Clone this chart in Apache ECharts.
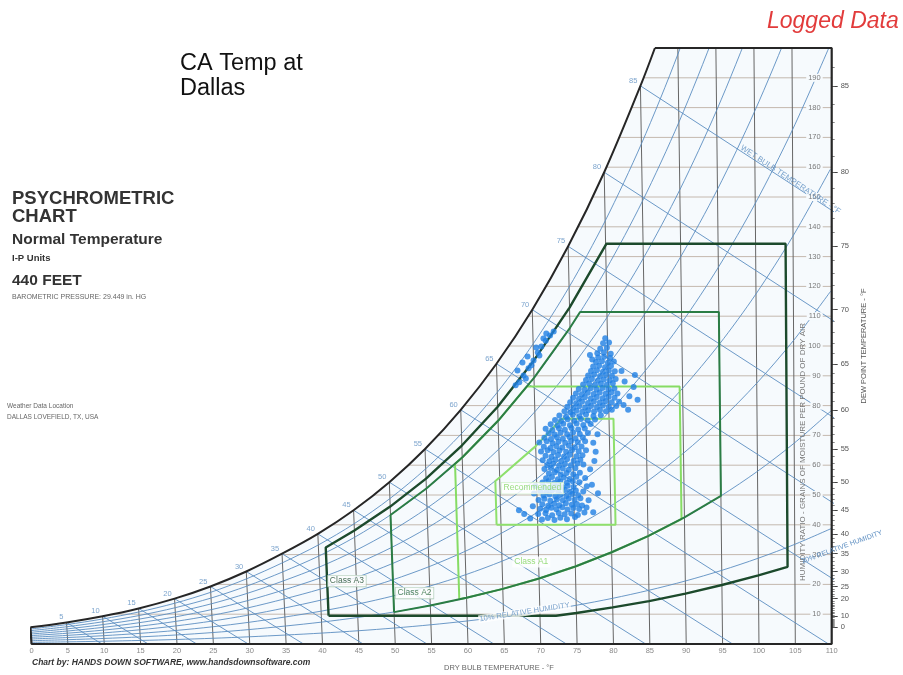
<!DOCTYPE html>
<html>
<head>
<meta charset="utf-8">
<script src="https://cdn.jsdelivr.net/npm/echarts@6/dist/echarts.min.js"></script>
<style>
  html, body { margin: 0; padding: 0; background: #fff; }
  #chart { width: 903px; height: 675px; }
</style>
</head>
<body>
<div id="chart"></div>
<script>
// Psychrometric chart, normal temperature, I-P units, 440 ft elevation,
// with logged computer-room-air readings and the ASHRAE class envelopes.
const FONT = '"Liberation Sans", Arial, Helvetica, sans-serif';

// Barometric pressure 29.449 in. Hg expressed in psia
const baroPsia = 14.464;
const maxGrains = 200;

// Saturation vapour pressure (psia) at each dry bulb knot (°F)
const tableTemps   = [0, 5, 10, 15, 20, 25, 30, 35, 40, 45, 50, 55, 60, 65, 70, 75, 80, 85, 90, 95, 100, 105, 110];
const satPressure  = [0.01857, 0.02403, 0.03093, 0.03956, 0.05036, 0.06379, 0.08037, 0.09998, 0.12173, 0.14756,
                      0.17813, 0.21413, 0.25639, 0.30579, 0.36334, 0.43016, 0.50745, 0.59654, 0.69890, 0.81613,
                      0.95000, 1.10250, 1.27630];

// Grid families
const rhLevels      = [10, 20, 30, 40, 50, 60, 70, 80, 90];
const wetBulbTemps  = [5, 10, 15, 20, 25, 30, 35, 40, 45, 50, 55, 60, 65, 70, 75, 80, 85];
const dryBulbLines  = [5, 10, 15, 20, 25, 30, 35, 40, 45, 50, 55, 60, 65, 70, 75, 80, 85, 90, 95, 100, 105];
const grainLines    = [10, 20, 30, 40, 50, 60, 70, 80, 90, 100, 110, 120, 130, 140, 150, 160, 170, 180, 190];
const dewPointTicks = [0, 10, 20, 25, 30, 35, 40, 45, 50, 55, 60, 65, 70, 75, 80, 85];

// Environmental envelopes: [dry bulb °F, grains per lb]
const classA3 = [[41, 9.5], [41, 32.4], [45, 38.1], [50, 46.1], [55, 55.5], [60, 66.6], [65, 79.6], [70, 95.0],
                 [75, 112.9], [80.1, 134.3], [104, 134.3], [104, 25.9], [100, 23.0], [95, 19.8], [90, 16.9],
                 [85, 14.4], [80, 12.3], [75, 10.4], [72.2, 9.5], [41, 9.5]];
const classA2 = [[50, 10.7], [50, 43.3], [55, 52.2], [60, 62.6], [65, 74.9], [70, 89.3], [75, 106.1], [76.4, 111.4],
                 [95, 111.4], [95, 49.7], [90, 42.5], [85, 36.2], [80, 30.8], [75, 26.0], [70, 22.0], [65, 18.5],
                 [60, 15.5], [55, 12.9], [50, 10.7]];
const classA1 = [[59, 15.0], [59, 60.4], [60, 62.6], [65, 74.9], [69.0, 86.4], [89.6, 86.4], [89.6, 41.9],
                 [85, 36.2], [80, 30.8], [75, 26.0], [70, 22.0], [65, 18.5], [60, 15.5], [59, 15.0]];
const recommended = [[64.4, 40.0], [64.4, 54.7], [65, 55.9], [70, 66.4], [73.6, 75.6], [80.6, 75.6], [80.6, 40.0], [64.4, 40.0]];

// Logged readings: [dry bulb °F, grains per lb]
const loggedLower = [
  [70.6,41.8],[71.4,42.3],[72.3,41.6],[73.1,42.4],[74.0,41.9],[75.1,42.6],
  [70.1,43.6],[71.1,43.9],[72.0,43.2],[72.9,44.0],[73.7,43.5],[74.6,43.8],[75.5,43.3],[76.4,44.1],
  [70.4,45.4],[71.2,45.0],[71.9,45.7],[72.6,45.2],[73.4,45.9],[74.1,45.1],[74.9,45.6],[75.7,45.3],[76.7,45.8],
  [70.7,46.9],[71.5,46.4],[72.3,47.1],[73.0,46.6],[73.9,47.2],[74.7,46.7],[75.4,47.0],[76.1,46.5],
  [70.2,48.3],[71.0,48.7],[71.8,48.1],[72.7,48.6],[73.5,48.2],[74.3,48.8],[75.1,48.4],[75.9,48.9],[77.0,48.2],
  [70.9,49.8],[71.7,50.2],[72.5,49.6],[73.2,50.1],[74.0,49.7],[74.8,50.3],[75.6,49.9],
  [70.5,51.3],[71.3,51.0],[72.1,51.6],[72.9,51.2],[73.8,51.7],[74.5,51.1],[75.3,51.5],[76.3,51.2],
  [71.0,52.8],[71.9,52.4],[72.7,53.0],[73.5,52.6],[74.2,53.1],[75.0,52.7],[76.8,52.9],
  [70.8,54.2],[71.6,54.6],[72.4,54.0],[73.2,54.5],[74.1,54.1],[74.9,54.6],[75.8,54.3],
  [68.2,43.6],[67.5,44.9],[69.0,42.1],[69.4,46.2],[77.6,44.2],[78.3,50.6],[77.5,53.4],[69.6,50.5],[69.8,53.0]
];
const loggedMiddle = [
  [71.3,55.6],[72.1,56.0],[72.9,55.3],[73.7,55.9],[74.5,55.4],[75.4,56.1],[76.6,55.7],
  [71.7,57.2],[72.5,57.6],[73.3,56.9],[74.1,57.4],[75.0,57.0],[75.9,57.5],
  [71.1,58.7],[72.0,59.1],[72.8,58.4],[73.6,58.9],[74.4,58.5],[75.3,59.0],[77.3,58.6],
  [71.5,60.1],[72.3,60.5],[73.1,59.9],[73.9,60.4],[74.7,60.0],[75.6,60.6],[76.4,60.2],
  [70.9,61.7],[71.8,61.3],[72.6,61.9],[73.4,61.4],[74.2,62.0],[75.1,61.5],[76.0,61.8],[77.9,61.4],
  [71.3,63.2],[72.1,62.8],[73.0,63.4],[73.8,62.9],[74.6,63.5],[75.5,63.0],[76.3,63.3],
  [70.7,64.6],[71.6,65.0],[72.4,64.4],[73.2,64.9],[74.1,64.5],[74.9,65.1],[75.8,64.7],[76.8,65.0],[78.1,64.5],
  [71.1,66.2],[72.0,65.8],[72.8,66.4],[73.6,65.9],[74.5,66.5],[75.3,66.0],[76.2,66.3],
  [70.5,67.6],[71.5,68.0],[72.3,67.4],[73.1,67.9],[74.0,67.5],[74.8,68.1],[75.7,67.7],[76.7,68.0],[77.8,67.5],
  [71.2,69.2],[72.1,68.8],[72.9,69.4],[73.7,68.9],[74.6,69.5],[75.4,69.0],[76.4,69.3],
  [71.8,70.7],[72.6,70.3],[73.4,70.9],[74.3,70.4],[75.1,71.0],[76.0,70.5],[77.1,70.8],[78.4,70.4],
  [71.4,72.2],[72.3,71.8],[73.2,72.4],[74.0,71.9],[74.9,72.5],[75.8,72.0],[76.7,72.3],
  [72.1,73.7],[73.0,73.3],[73.8,73.9],[74.7,73.4],[75.6,74.0],[76.5,73.5],[77.5,73.8],
  [72.7,75.2],[73.5,74.8],[74.4,75.4],[75.3,74.9],[76.2,75.5],[77.1,75.0],[78.1,75.3],
  [73.3,76.7],[74.2,76.3],[75.1,76.9],[76.0,76.4],[76.9,77.0],[77.9,76.5],[78.9,76.8]
];
const loggedUpper = [
  [74.0,78.1],[74.8,77.8],[75.6,78.3],[76.4,77.9],[77.2,78.4],[78.0,78.0],[78.8,78.5],[79.6,78.1],[80.4,78.6],
  [74.4,79.6],[75.2,79.3],[76.0,79.8],[76.8,79.4],[77.6,79.9],[78.4,79.5],[79.2,80.0],[80.0,79.6],[81.0,79.9],
  [74.8,81.1],[75.6,80.8],[76.4,81.3],[77.2,80.9],[78.0,81.4],[78.8,81.0],[79.6,81.5],[80.4,81.1],[81.4,81.3],
  [75.2,82.6],[76.0,82.3],[76.8,82.8],[77.6,82.4],[78.4,82.9],[79.2,82.5],[80.0,83.0],[80.8,82.6],
  [75.6,84.1],[76.4,83.8],[77.2,84.3],[78.0,83.9],[78.8,84.4],[79.6,84.0],[80.4,84.5],[81.2,84.1],
  [76.0,85.6],[76.8,85.3],[77.6,85.8],[78.4,85.4],[79.2,85.9],[80.0,85.5],[80.8,85.7],
  [82.0,80.2],[82.8,83.1],[83.4,86.2],[82.2,88.1],[83.6,90.3],[81.8,91.6],[82.6,78.6],[83.9,82.0],
  [76.6,87.1],[77.4,87.4],[78.2,86.9],[79.0,87.3],[79.8,87.0],[80.6,87.5],
  [77.0,88.6],[77.8,88.9],[78.6,88.4],[79.4,88.8],[80.2,88.5],[81.0,88.9],
  [77.3,90.1],[78.1,90.4],[78.9,89.9],[79.7,90.3],[80.5,90.0],
  [77.7,91.6],[78.5,91.9],[79.3,91.4],[80.1,91.8],[80.9,91.5],
  [78.0,93.1],[78.8,93.4],[79.6,92.9],[80.4,93.3],
  [78.4,94.6],[79.2,94.9],[80.0,94.4],[80.8,94.8],[77.9,95.5],
  [78.7,96.1],[79.5,96.4],[80.3,96.0],[77.6,97.0],
  [78.6,97.6],[79.5,97.9],[80.4,97.4],
  [79.0,99.1],[79.9,99.4],
  [79.4,100.9],[80.2,101.2],
  [79.7,102.6]
];
const loggedHumid = [
  [68.0,87.8],[68.6,90.1],[69.3,92.5],[70.0,95.1],[70.6,97.8],[71.1,99.8],[71.7,101.8],[72.3,103.5],[72.8,104.9],
  [68.9,89.1],[69.7,93.5],[70.8,96.8],[67.8,91.8],[68.5,94.5],[69.2,96.5],[70.4,99.5],[71.4,102.5],[67.5,86.8],[71.8,104.2]
];

// ---- psychrometric helpers -------------------------------------------------
const GR = 4354; // 0.62198 lb/lb × 7000 grains/lb
const grainsAtPw = pw => GR * pw / (baroPsia - pw);
function pwsAt(t) {
  const i = Math.max(0, Math.min(tableTemps.length - 2, Math.floor(t / 5)));
  const f = (t - tableTemps[i]) / 5;
  return satPressure[i] * Math.pow(satPressure[i + 1] / satPressure[i], f);
}
const satGrains = t => grainsAtPw(pwsAt(t));
function dewPointOf(g) {
  const pw = g * baroPsia / (GR + g);
  for (let i = 0; i < tableTemps.length - 1; i++) {
    if (pw <= satPressure[i + 1]) {
      return tableTemps[i] + 5 * Math.log(pw / satPressure[i]) / Math.log(satPressure[i + 1] / satPressure[i]);
    }
  }
  return 110;
}
// Dry bulb lines lean slightly as moisture rises (oblique chart coordinates)
const SKEW_K = 0.00023, SKEW_T0 = 115;
const pt = (t, g) => [t - SKEW_K * (SKEW_T0 - t) * g, g];

// ---- grid geometry ---------------------------------------------------------
const tSat200 = dewPointOf(maxGrains);
const satCurve = tableTemps.filter(t => satGrains(t) < maxGrains).map(t => pt(t, satGrains(t)));
satCurve.push(pt(tSat200, maxGrains));

const STEEL = '#5b8dc1';
const series = [];
const addLine = (data, color, width, z, extra) => series.push(Object.assign({
  type: 'line', data, symbol: 'none', silent: true, animation: false, z,
  lineStyle: { color, width }
}, extra || {}));

// light tint inside the chart outline
const outline = satCurve.concat([[110, maxGrains], [110, 0], [0, 0]]);
series.push({
  type: 'custom', coordinateSystem: 'cartesian2d', silent: true, z: 0, clip: false, data: [[0, 0]],
  renderItem: (params, api) => ({
    type: 'polygon',
    shape: { points: outline.map(p => api.coord(p)) },
    style: { fill: '#f6fafd' }
  })
});

// humidity ratio lines start at saturation and run to the right edge
grainLines.forEach(g => addLine([pt(dewPointOf(g), g), [110, g]], '#c4b8ae', 1, 1));
// dry bulb lines rise from the base to the saturation curve
dryBulbLines.forEach(t => addLine([pt(t, 0), pt(t, Math.min(satGrains(t), maxGrains))], '#666', 1, 2));
// relative humidity curves
rhLevels.forEach(rh => addLine(
  tableTemps.map(t => pt(t, grainsAtPw(rh / 100 * satPressure[tableTemps.indexOf(t)]))),
  STEEL, 0.9, 3, { smooth: 0.3 }));
// wet bulb lines from the saturation curve down to dry air
wetBulbTemps.forEach(twb => {
  const ws = satGrains(twb);
  const tEnd = twb + (1093 - 0.556 * twb) * (ws / 7000) / 0.24;
  addLine([pt(twb, ws), pt(tEnd, 0)], STEEL, 0.9, 3);
});

// ASHRAE envelopes
addLine(classA1.map(p => pt(p[0], p[1])), '#86dc64', 2, 4);
addLine(recommended.map(p => pt(p[0], p[1])), '#8ee06c', 2, 4);
addLine(classA2.map(p => pt(p[0], p[1])), '#2b7d45', 2, 5);
addLine(classA3.map(p => pt(p[0], p[1])), '#1c4a2c', 2.4, 5);

// saturation curve and chart frame
addLine(satCurve, '#262626', 2, 6, { smooth: 0.35, clip: false });
addLine([pt(0, satGrains(0)), [0, 0], [110, 0], [110, maxGrains], pt(tSat200, maxGrains)], '#262626', 2.2, 6, { clip: false });

// logged readings
series.push({
  type: 'scatter', silent: true, z: 8, symbolSize: 6, animation: false,
  itemStyle: { color: '#1f7fe4' },
  data: loggedLower.concat(loggedMiddle, loggedUpper, loggedHumid).map(p => pt(p[0], p[1]))
});

// wet bulb numbers along the saturation curve
series.push({
  type: 'scatter', silent: true, z: 9, symbolSize: 0, animation: false,
  data: wetBulbTemps.map(t => pt(t, satGrains(t)).concat([t])),
  label: {
    show: true, position: 'left', distance: 3, offset: [0, -5],
    formatter: p => String(p.value[2]), fontSize: 7.5, color: STEEL, fontFamily: FONT
  }
});

// envelope names and curve captions
const tag = (t, g, text, lab) => ({ value: pt(t, g), label: Object.assign({ show: true, formatter: text, fontFamily: FONT }, lab) });
series.push({
  type: 'scatter', silent: true, z: 10, symbolSize: 0, animation: false,
  label: { position: 'inside' },
  data: [
    tag(43.7, 21.1, 'Class A3', { fontSize: 8.5, color: '#1c4a2c', backgroundColor: '#fff', borderColor: '#9bbfa6', borderWidth: 0.6, padding: [1, 2] }),
    tag(52.9, 17.1, 'Class A2', { fontSize: 8.5, color: '#2b6a3c', backgroundColor: '#fff', borderColor: '#9bbfa6', borderWidth: 0.6, padding: [1, 2] }),
    tag(69.0, 27.5, 'Class A1', { fontSize: 8.5, color: '#7fd45c', backgroundColor: '#fff', padding: [1, 2] }),
    tag(69.4, 52.3, 'Recommended', { fontSize: 8.5, color: '#7fd45c', backgroundColor: '#fff', borderColor: '#c8eec0', borderWidth: 0.6, padding: [1, 2] }),
    tag(67.9, 10.7, '10% RELATIVE HUMIDITY', { fontSize: 7.5, color: STEEL, rotate: 9, backgroundColor: '#fff', padding: [0, 1] }),
    tag(104.7, 155.8, 'WET BULB TEMPERATURE - °F', { fontSize: 8, color: STEEL, rotate: -33.5 })
  ]
});

// dew point scale on the right edge
const dewMajor = dewPointTicks.map(satGrains);
const dewMinor = [];
for (let d = 0; d <= Math.floor(tSat200); d++) dewMinor.push(satGrains(d));
const dewLabel = v => {
  const i = dewMajor.findIndex(g => Math.abs(g - v) < 1e-6);
  return i < 0 ? '' : String(dewPointTicks[i]);
};

const txt = (x, y, text, font, fill, extra) => Object.assign({
  type: 'text', x, y, silent: true,
  style: { text, x: 0, y: 0, font, fill, textAlign: 'left', textVerticalAlign: 'middle' }
}, extra || {});

const option = {
  animation: false,
  backgroundColor: '#ffffff',
  grid: { left: 31.5, right: 71.3, top: 48, bottom: 31, containLabel: false },
  xAxis: {
    type: 'value', min: 0, max: 110, interval: 5,
    axisLine: { show: false }, axisTick: { show: false }, splitLine: { show: false },
    axisLabel: { fontSize: 7.5, color: '#8a8a8a', margin: 3, fontFamily: FONT }
  },
  yAxis: [
    {
      type: 'value', min: 0, max: maxGrains, interval: 10, position: 'right', z: 10,
      axisLine: { show: false }, axisTick: { show: false }, splitLine: { show: false },
      axisLabel: {
        inside: true, margin: 9, fontSize: 7.5, color: '#7a7a7a', fontFamily: FONT,
        backgroundColor: '#f6fafd', padding: [0, 2],
        formatter: v => (v > 0 && v < maxGrains) ? String(v) : ''
      }
    },
    {
      type: 'value', min: 0, max: maxGrains, position: 'right',
      axisLine: { show: false }, splitLine: { show: false },
      axisTick: { show: true, length: 6, customValues: dewMajor, lineStyle: { color: '#444', width: 1 } },
      axisLabel: { customValues: dewMajor, formatter: dewLabel, fontSize: 7.5, color: '#555', margin: 9, fontFamily: FONT },
      name: 'DEW POINT TEMPERATURE - °F', nameLocation: 'middle', nameRotate: 90, nameGap: 25,
      nameTextStyle: { fontSize: 7.5, color: '#555', fontFamily: FONT }
    },
    {
      type: 'value', min: 0, max: maxGrains, position: 'right',
      axisLine: { show: false }, splitLine: { show: false }, axisLabel: { show: false },
      axisTick: { show: true, length: 3, customValues: dewMinor, lineStyle: { color: '#666', width: 0.8 } }
    }
  ],
  series,
  graphic: [
    txt(180, 64, 'CA Temp at', '23.5px ' + FONT, '#111'),
    txt(180, 89, 'Dallas', '23.5px ' + FONT, '#111'),
    txt(767, 22, 'Logged Data', 'italic 23px ' + FONT, '#e23b3b'),
    txt(12, 198.5, 'PSYCHROMETRIC', 'bold 18.5px ' + FONT, '#333'),
    txt(12, 216.5, 'CHART', 'bold 18.5px ' + FONT, '#333'),
    txt(12, 239.5, 'Normal Temperature', 'bold 15.5px ' + FONT, '#333'),
    txt(12, 258.3, 'I-P Units', 'bold 9.5px ' + FONT, '#333'),
    txt(12, 280.5, '440 FEET', 'bold 15.5px ' + FONT, '#333'),
    txt(12, 297, 'BAROMETRIC PRESSURE: 29.449 in. HG', '7px ' + FONT, '#666'),
    txt(7, 406, 'Weather Data Location', '6.5px ' + FONT, '#666'),
    txt(7, 417, 'DALLAS LOVEFIELD, TX, USA', '6.5px ' + FONT, '#666'),
    txt(32, 663, 'Chart by: HANDS DOWN SOFTWARE, www.handsdownsoftware.com', 'italic bold 8.5px ' + FONT, '#333'),
    txt(499, 668, 'DRY BULB TEMPERATURE - °F', '7.5px ' + FONT, '#666', {
      style: { text: 'DRY BULB TEMPERATURE - °F', x: 0, y: 0, font: '7.5px ' + FONT, fill: '#666', textAlign: 'center', textVerticalAlign: 'middle' }
    }),
    {
      type: 'text', x: 803, y: 452, rotation: Math.PI / 2, silent: true, z: 20,
      style: { text: 'HUMIDITY RATIO - GRAINS OF MOISTURE PER POUND OF DRY AIR', x: 0, y: 0,
               font: '8px ' + FONT, fill: '#777', textAlign: 'center', textVerticalAlign: 'middle' }
    },
    {
      type: 'text', x: 842, y: 547, rotation: 20 * Math.PI / 180, silent: true, z: 20,
      style: { text: '20% RELATIVE HUMIDITY', x: 0, y: 0, font: '7px ' + FONT, fill: STEEL,
               textAlign: 'center', textVerticalAlign: 'middle' }
    }
  ]
};

echarts.init(document.getElementById('chart'), null, { renderer: 'canvas' }).setOption(option);
</script>
</body>
</html>
